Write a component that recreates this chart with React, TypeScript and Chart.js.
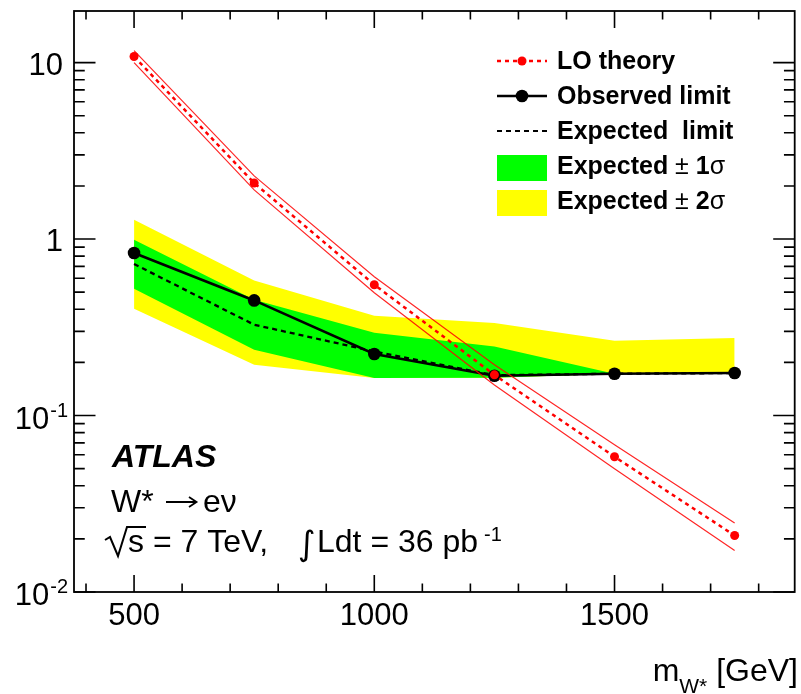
import { useEffect, useRef } from "react";
import { Chart, registerables } from "chart.js";

Chart.register(...registerables);

// ---- data ----
const massPoints = [500, 750, 1000, 1250, 1500, 1750];
const theoryXsec = [10.83, 2.077, 0.551, 0.17, 0.0584, 0.0209];
const theoryUpper = [11.7, 2.28, 0.612, 0.194, 0.0683, 0.0246];
const theoryLower = [10.0, 1.9, 0.496, 0.149, 0.05, 0.0172];
const observedLimit = [0.833, 0.449, 0.223, 0.168, 0.1725, 0.174];
const expectedLimit = [0.722, 0.327, 0.2307, 0.1693, 0.1725, 0.174];
const expPlus1 = [0.991, 0.453, 0.2945, 0.2463, 0.1725, 0.174];
const expMinus1 = [0.523, 0.236, 0.163, 0.1637, 0.1725, 0.174];
const expPlus2 = [1.286, 0.5825, 0.3677, 0.334, 0.265, 0.275];
const expMinus2 = [0.403, 0.194, 0.163, 0.1637, 0.1725, 0.174];

const xMin = 375;
const xMax = 1875;
const yMin = 0.01;
const yMax = 19.6;

const xMajorTicks = [500, 1000, 1500];
const xMajorLabels = ["500", "1000", "1500"];
const xMinorTicks = [400, 600, 700, 800, 900, 1100, 1200, 1300, 1400, 1600, 1700, 1800];
const yMajorTicks = [10, 1, 0.1, 0.01];
const yMajorLabelBase = ["10", "1", "10", "10"];
const yMajorLabelExp = ["", "", "-1", "-2"];
const yDecades = [0.01, 0.1, 1, 10];
const yMinorMultipliers = [2, 3, 4, 5, 6, 7, 8, 9];

const RED = "#ff0000";
const GREEN = "#00ff00";
const YELLOW = "#ffff00";
const FONT = '"Liberation Sans", Arial, Helvetica, sans-serif';

const pts = (ys: number[]) => massPoints.map((m, i) => ({ x: m, y: ys[i] }));

const drawPlugin = {
  id: "atlasDecor",
  beforeDraw(chart: any) {
    const ctx = chart.ctx;
    ctx.save();
    ctx.fillStyle = "#ffffff";
    ctx.fillRect(0, 0, chart.width, chart.height);
    ctx.restore();
  },
  afterDraw(chart: any) {
    const ctx: CanvasRenderingContext2D = chart.ctx;
    const a = chart.chartArea;
    const xs = chart.scales.x;
    const ys = chart.scales.y;
    ctx.save();

    // frame
    ctx.strokeStyle = "#000";
    ctx.lineWidth = 1.8;
    ctx.strokeRect(a.left, a.top, a.right - a.left, a.bottom - a.top);

    // ticks
    ctx.lineWidth = 1.6;
    const xMajLen = 17;
    const yMajLen = 21.5;
    ctx.beginPath();
    xMajorTicks.forEach((v) => {
      const p = xs.getPixelForValue(v);
      ctx.moveTo(p, a.bottom);
      ctx.lineTo(p, a.bottom - xMajLen);
      ctx.moveTo(p, a.top);
      ctx.lineTo(p, a.top + xMajLen);
    });
    xMinorTicks.forEach((v) => {
      const p = xs.getPixelForValue(v);
      ctx.moveTo(p, a.bottom);
      ctx.lineTo(p, a.bottom - xMajLen / 2);
      ctx.moveTo(p, a.top);
      ctx.lineTo(p, a.top + xMajLen / 2);
    });
    yMajorTicks.forEach((v) => {
      const p = ys.getPixelForValue(v);
      ctx.moveTo(a.left, p);
      ctx.lineTo(a.left + yMajLen, p);
      ctx.moveTo(a.right, p);
      ctx.lineTo(a.right - yMajLen, p);
    });
    yDecades.forEach((d) => {
      yMinorMultipliers.forEach((m) => {
        const v = d * m;
        if (v > yMax) return;
        const p = ys.getPixelForValue(v);
        ctx.moveTo(a.left, p);
        ctx.lineTo(a.left + yMajLen / 2, p);
        ctx.moveTo(a.right, p);
        ctx.lineTo(a.right - yMajLen / 2, p);
      });
    });
    ctx.stroke();

    // tick labels
    ctx.fillStyle = "#000";
    ctx.textBaseline = "alphabetic";
    ctx.font = `31px ${FONT}`;
    ctx.textAlign = "center";
    xMajorTicks.forEach((v, i) => {
      ctx.fillText(xMajorLabels[i], xs.getPixelForValue(v), 625);
    });
    yMajorTicks.forEach((v, i) => {
      const p = ys.getPixelForValue(v);
      const base = yMajorLabelBase[i];
      const ex = yMajorLabelExp[i];
      if (!ex) {
        ctx.font = `31px ${FONT}`;
        ctx.textAlign = "right";
        ctx.fillText(base, 63, p + 12);
      } else {
        ctx.font = `20px ${FONT}`;
        const ew = ctx.measureText(ex).width;
        ctx.textAlign = "left";
        ctx.fillText(ex, 68 - ew, p + 1);
        ctx.font = `31px ${FONT}`;
        ctx.textAlign = "right";
        ctx.fillText(base, 68 - ew - 1, p + 13);
      }
    });

    // x-axis title: m_{W*} [GeV]
    ctx.textAlign = "left";
    ctx.font = `32px ${FONT}`;
    const wm = ctx.measureText("m").width;
    const wg = ctx.measureText(" [GeV]").width;
    ctx.font = `21px ${FONT}`;
    const ws = ctx.measureText("W*").width;
    const tx = 798 - (wm + ws + wg);
    ctx.font = `32px ${FONT}`;
    ctx.fillText("m", tx, 681);
    ctx.fillText(" [GeV]", tx + wm + ws, 681);
    ctx.font = `21px ${FONT}`;
    ctx.fillText("W*", tx + wm, 693);

    // ---- legend ----
    const lx0 = 497;
    const lx1 = 547;
    const lxc = 522;
    const textX = 557;
    // LO theory
    ctx.strokeStyle = RED;
    ctx.lineWidth = 2.5;
    ctx.setLineDash([4, 4]);
    ctx.beginPath();
    ctx.moveTo(lx0, 61);
    ctx.lineTo(lx1, 61);
    ctx.stroke();
    ctx.setLineDash([]);
    ctx.fillStyle = RED;
    ctx.beginPath();
    ctx.arc(lxc, 61, 4.5, 0, Math.PI * 2);
    ctx.fill();
    // Observed
    ctx.strokeStyle = "#000";
    ctx.lineWidth = 2.5;
    ctx.beginPath();
    ctx.moveTo(lx0, 96);
    ctx.lineTo(lx1, 96);
    ctx.stroke();
    ctx.fillStyle = "#000";
    ctx.beginPath();
    ctx.arc(lxc, 96, 6.3, 0, Math.PI * 2);
    ctx.fill();
    // Expected
    ctx.lineWidth = 2.2;
    ctx.setLineDash([5, 4]);
    ctx.beginPath();
    ctx.moveTo(lx0, 131);
    ctx.lineTo(lx1, 131);
    ctx.stroke();
    ctx.setLineDash([]);
    // boxes
    ctx.fillStyle = GREEN;
    ctx.fillRect(lx0, 155, lx1 - lx0, 26);
    ctx.fillStyle = YELLOW;
    ctx.fillRect(lx0, 190, lx1 - lx0, 26);

    ctx.fillStyle = "#000";
    ctx.textAlign = "left";
    const bold = `bold 25px ${FONT}`;
    const norm = `25px ${FONT}`;
    ctx.font = bold;
    ctx.fillText("LO theory", textX, 69);
    ctx.fillText("Observed limit", textX, 104);
    ctx.fillText("Expected  limit", textX, 139);
    const sigmaRow = (num: string, yb: number) => {
      let x = textX;
      ctx.font = bold;
      ctx.fillText("Expected ", x, yb);
      x += ctx.measureText("Expected ").width;
      ctx.font = norm;
      ctx.fillText("\u00b1 ", x, yb);
      x += ctx.measureText("\u00b1 ").width;
      ctx.font = bold;
      ctx.fillText(num, x, yb);
      x += ctx.measureText(num).width;
      ctx.font = norm;
      ctx.fillText("\u03c3", x, yb);
    };
    sigmaRow("1", 174);
    sigmaRow("2", 209);

    // ---- annotations ----
    ctx.font = `italic bold 32px ${FONT}`;
    ctx.fillText("ATLAS", 112, 467);
    ctx.font = `32px ${FONT}`;
    ctx.fillText("W*", 111, 512);
    // long arrow
    ctx.strokeStyle = "#000";
    ctx.lineWidth = 1.8;
    ctx.beginPath();
    ctx.moveTo(166, 502);
    ctx.lineTo(196, 502);
    ctx.moveTo(189, 497);
    ctx.lineTo(196.5, 502);
    ctx.lineTo(189, 507);
    ctx.stroke();
    ctx.fillText("e\u03bd", 203, 512);

    // sqrt(s)
    ctx.lineWidth = 2;
    ctx.beginPath();
    ctx.moveTo(105, 540);
    ctx.lineTo(110, 537);
    ctx.lineTo(118, 556);
    ctx.lineTo(127, 527);
    ctx.lineTo(146, 527);
    ctx.stroke();
    ctx.fillText("s = 7 TeV,", 128, 552);
    ctx.font = `34px "DejaVu Sans", sans-serif`;
    ctx.fillText("\u222b", 298, 555);
    ctx.font = `32px ${FONT}`;
    ctx.fillText("Ldt = 36 pb", 317, 552);
    const lw = ctx.measureText("Ldt = 36 pb").width;
    ctx.font = `20px ${FONT}`;
    ctx.fillText("-1", 317 + lw + 6, 541);

    ctx.restore();
  },
};

export default function App() {
  const ref = useRef<HTMLCanvasElement | null>(null);
  useEffect(() => {
    if (!ref.current) return;
    const band = (ys: number[], fill: any, color: string) => ({
      data: pts(ys),
      borderColor: "rgba(0,0,0,0)",
      borderWidth: 0,
      pointRadius: 0,
      backgroundColor: color,
      fill,
      tension: 0,
    });
    const chart = new Chart(ref.current, {
      type: "line",
      data: {
        datasets: [
          {
            label: "LO theory",
            data: pts(theoryXsec),
            borderColor: RED,
            borderWidth: 2.5,
            borderDash: [4, 4],
            pointRadius: 4.5,
            pointBackgroundColor: RED,
            pointBorderWidth: 0,
            fill: false,
            tension: 0,
          },
          {
            label: "theory up",
            data: pts(theoryUpper),
            borderColor: "rgba(255,0,0,0.85)",
            borderWidth: 1.2,
            pointRadius: 0,
            fill: false,
            tension: 0,
          },
          {
            label: "theory down",
            data: pts(theoryLower),
            borderColor: "rgba(255,0,0,0.85)",
            borderWidth: 1.2,
            pointRadius: 0,
            fill: false,
            tension: 0,
          },
          {
            label: "Observed limit",
            data: pts(observedLimit),
            borderColor: "#000",
            borderWidth: 2.6,
            pointRadius: 6.3,
            pointBackgroundColor: "#000",
            pointBorderWidth: 0,
            fill: false,
            tension: 0,
          },
          {
            label: "Expected limit",
            data: pts(expectedLimit),
            borderColor: "#000",
            borderWidth: 2.3,
            borderDash: [5, 4],
            pointRadius: 0,
            fill: false,
            tension: 0,
          },
          band(expPlus1, "+1", GREEN),
          band(expMinus1, false, GREEN),
          band(expPlus2, "+1", YELLOW),
          band(expMinus2, false, YELLOW),
        ],
      },
      options: {
        responsive: false,
        animation: false,
        devicePixelRatio: 1,
        layout: { padding: { left: 74, top: 11, right: 2, bottom: 102 } },
        plugins: { legend: { display: false }, tooltip: { enabled: false } },
        events: [],
        scales: {
          x: { type: "linear", min: xMin, max: xMax, display: false },
          y: { type: "logarithmic", min: yMin, max: yMax, display: false },
        },
      },
      plugins: [drawPlugin],
    } as any);
    return () => chart.destroy();
  }, []);
  return (
    <div style={{ position: "absolute", left: 0, top: 0, width: 801, height: 694 }}>
      <canvas ref={ref} width={801} height={694} style={{ display: "block" }} />
    </div>
  );
}
